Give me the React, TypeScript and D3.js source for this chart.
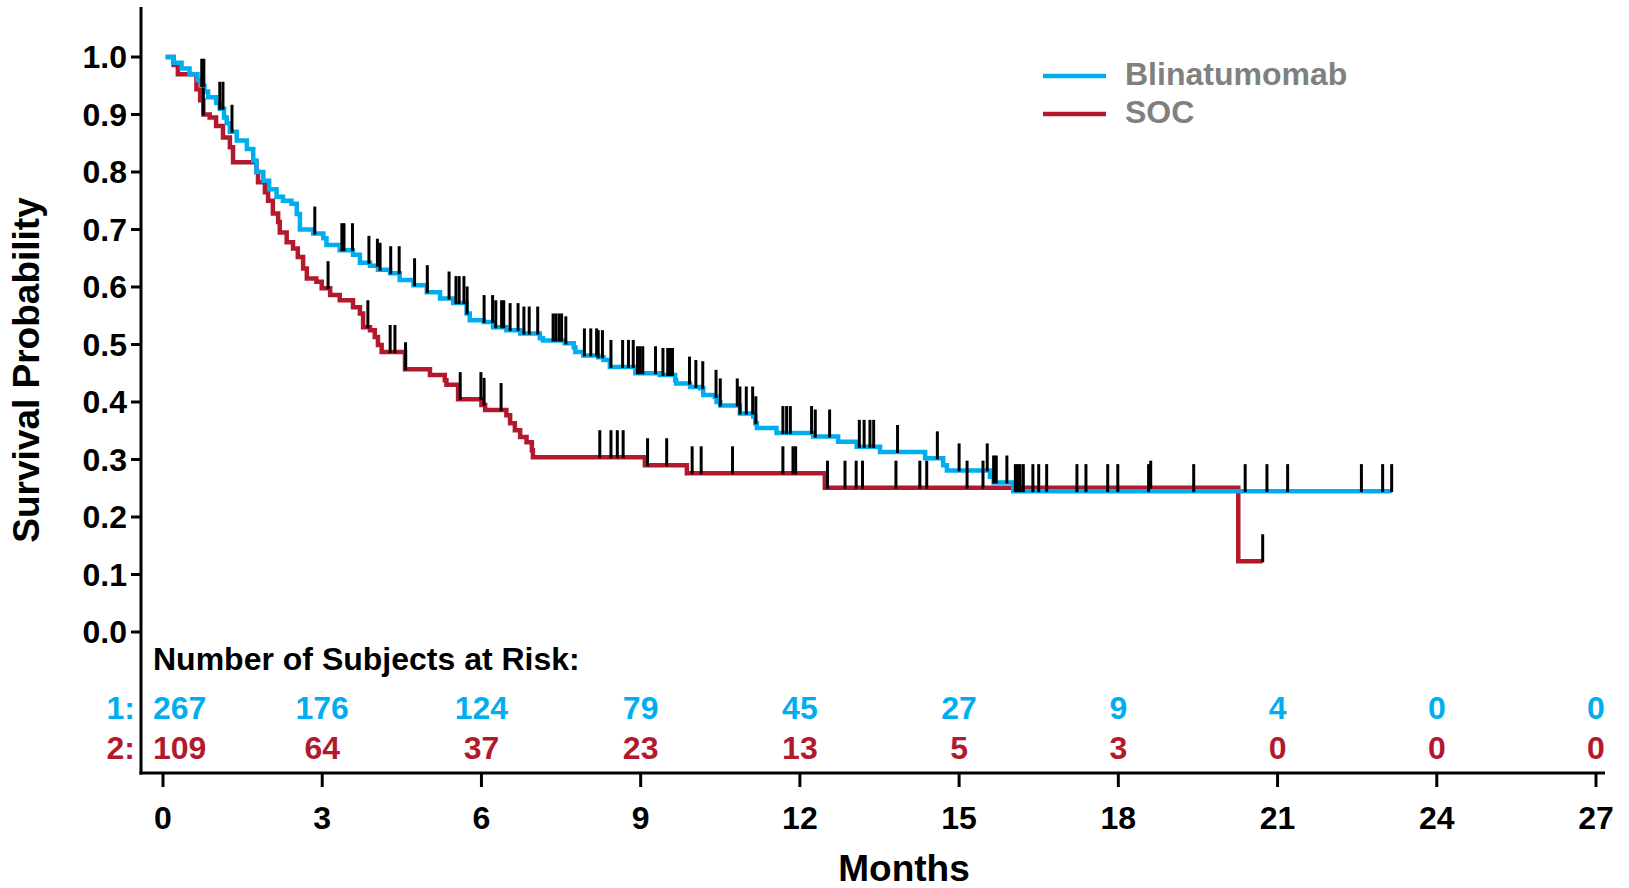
import React from "react";
import * as d3 from "d3";

// Kaplan-Meier steps: time (months) where survival drops, and survival after the drop
const blinaTimes = [0.2, 0.35, 0.5, 0.65, 0.72, 0.78, 0.85, 1.0, 1.07, 1.15, 1.2, 1.26, 1.39, 1.58, 1.7, 1.76, 1.89, 2.0, 2.14, 2.26, 2.42, 2.52, 2.58, 2.83, 3.02, 3.08, 3.33, 3.58, 3.71, 3.9, 4.05, 4.28, 4.46, 4.72, 4.97, 5.22, 5.47, 5.72, 5.78, 6.04, 6.22, 6.47, 6.73, 7.1, 7.16, 7.57, 7.74, 7.77, 7.92, 8.2, 8.3, 8.42, 8.9, 9.36, 9.65, 9.67, 9.93, 10.12, 10.18, 10.4, 10.43, 10.5, 10.87, 11.12, 11.16, 11.19, 11.56, 12.25, 12.72, 13.07, 13.51, 14.36, 14.7, 14.77, 15.58, 15.65, 16.02];
const blinaSurv = [0.99, 0.98, 0.97, 0.96, 0.95, 0.94, 0.93, 0.92, 0.91, 0.895, 0.885, 0.87, 0.855, 0.84, 0.82, 0.8, 0.785, 0.77, 0.757, 0.75, 0.745, 0.727, 0.7, 0.693, 0.685, 0.673, 0.664, 0.656, 0.642, 0.637, 0.63, 0.624, 0.612, 0.603, 0.591, 0.58, 0.572, 0.554, 0.542, 0.539, 0.53, 0.525, 0.519, 0.511, 0.507, 0.502, 0.495, 0.487, 0.481, 0.478, 0.473, 0.461, 0.45, 0.447, 0.438, 0.432, 0.426, 0.424, 0.412, 0.409, 0.4, 0.394, 0.38, 0.375, 0.363, 0.355, 0.346, 0.34, 0.331, 0.322, 0.313, 0.302, 0.29, 0.281, 0.27, 0.26, 0.245];
const blinaEnd = 23.15;
const blinaCensor = [0.73, 0.77, 1.07, 1.13, 1.3, 2.86, 3.37, 3.41, 3.57, 3.88, 4.04, 4.09, 4.29, 4.45, 4.74, 4.98, 5.39, 5.52, 5.58, 5.67, 5.73, 6.05, 6.21, 6.27, 6.38, 6.42, 6.54, 6.69, 6.8, 6.9, 7.06, 7.35, 7.4, 7.46, 7.51, 7.59, 7.94, 8.06, 8.17, 8.2, 8.28, 8.44, 8.66, 8.77, 8.86, 8.94, 8.99, 9.04, 9.28, 9.42, 9.51, 9.55, 9.6, 9.92, 10.04, 10.17, 10.42, 10.5, 10.82, 10.87, 10.99, 11.11, 11.17, 11.68, 11.75, 11.82, 12.22, 12.29, 12.56, 13.12, 13.21, 13.32, 13.39, 13.84, 14.59, 15.0, 15.53, 15.65, 15.7, 15.9, 16.06, 16.1, 16.15, 16.21, 16.39, 16.5, 16.65, 17.22, 17.39, 17.8, 17.99, 18.57, 19.42, 20.39, 20.8, 21.19, 22.58, 22.98, 23.15];

const socTimes = [0.2, 0.28, 0.63, 0.7, 0.76, 0.88, 1.0, 1.13, 1.26, 1.32, 1.76, 1.79, 1.92, 1.98, 2.07, 2.17, 2.2, 2.33, 2.45, 2.54, 2.64, 2.71, 2.89, 2.99, 3.15, 3.33, 3.58, 3.71, 3.77, 3.9, 3.99, 4.05, 4.12, 4.56, 5.03, 5.31, 5.34, 5.56, 6.0, 6.07, 6.47, 6.54, 6.63, 6.73, 6.85, 6.95, 6.97, 9.08, 9.87, 12.47, 20.26];
const socSurv = [0.986, 0.97, 0.944, 0.925, 0.9, 0.895, 0.88, 0.86, 0.843, 0.817, 0.8, 0.782, 0.765, 0.75, 0.728, 0.713, 0.695, 0.678, 0.667, 0.652, 0.632, 0.615, 0.609, 0.598, 0.586, 0.577, 0.565, 0.554, 0.53, 0.525, 0.513, 0.499, 0.487, 0.457, 0.447, 0.438, 0.43, 0.405, 0.395, 0.386, 0.377, 0.363, 0.351, 0.339, 0.33, 0.316, 0.304, 0.29, 0.276, 0.251, 0.123];
const socEnd = 20.72;
const socCensor = [0.76, 3.11, 3.86, 4.28, 4.37, 4.57, 5.6, 5.99, 6.05, 6.37, 8.23, 8.44, 8.56, 8.67, 9.13, 9.49, 9.97, 10.14, 10.73, 11.68, 11.87, 11.92, 12.52, 12.85, 13.06, 13.18, 13.81, 14.26, 14.39, 15.15, 15.45, 18.61, 20.72];

const xTickValues = [0, 3, 6, 9, 12, 15, 18, 21, 24, 27];
const yTickValues = [0, 0.1, 0.2, 0.3, 0.4, 0.5, 0.6, 0.7, 0.8, 0.9, 1.0];
const blinaRisk = [267, 176, 124, 79, 45, 27, 9, 4, 0, 0];
const socRisk = [109, 64, 37, 23, 13, 5, 3, 0, 0, 0];

const BLUE = "#00aeef";
const RED = "#b3192c";
const FONT = "'Liberation Sans', Arial, sans-serif";

function buildCurve(times: number[], surv: number[], end: number) {
  const pts: [number, number][] = [[0.05, 1]];
  times.forEach((t, i) => pts.push([t, surv[i]]));
  pts.push([end, surv[surv.length - 1]]);
  return pts;
}

function survAt(times: number[], surv: number[], t: number) {
  const i = d3.bisectRight(times, t);
  return i === 0 ? 1 : surv[i - 1];
}

export default function App() {
  const width = 1629;
  const height = 888;
  const axisX = 141;
  const axisY = 773;

  const x = d3.scaleLinear().domain([0, 27]).range([163, 1596]);
  const y = d3.scaleLinear().domain([0, 1]).range([632, 57]);

  const line = d3
    .line<[number, number]>()
    .x((d) => x(d[0]))
    .y((d) => y(d[1]))
    .curve(d3.curveStepAfter);

  const blinaPath = line(buildCurve(blinaTimes, blinaSurv, blinaEnd)) || "";
  const socPath = line(buildCurve(socTimes, socSurv, socEnd)) || "";

  const censorMarks = (times: number[], surv: number[], censor: number[], key: string) =>
    censor.map((t, i) => {
      const yy = y(survAt(times, surv, t));
      return (
        <line key={key + i} x1={x(t)} x2={x(t)} y1={yy + 1} y2={yy - 27} stroke="#000" strokeWidth={3} />
      );
    });

  return (
    <svg
      width={width}
      height={height}
      style={{ position: "absolute", left: 0, top: 0, background: "#fff" }}
      fontFamily={FONT}
      fontWeight="bold"
    >
      {/* axes */}
      <line x1={axisX} x2={axisX} y1={7} y2={axisY + 1.5} stroke="#000" strokeWidth={3} />
      <line x1={axisX - 1.5} x2={1605} y1={axisY} y2={axisY} stroke="#000" strokeWidth={3} />

      {yTickValues.map((v) => (
        <g key={"y" + v}>
          <line x1={axisX - 10} x2={axisX} y1={y(v)} y2={y(v)} stroke="#000" strokeWidth={3} />
          <text x={127} y={y(v) + 11} textAnchor="end" fontSize={32} fill="#000">
            {v.toFixed(1)}
          </text>
        </g>
      ))}

      {xTickValues.map((v) => (
        <g key={"x" + v}>
          <line x1={x(v)} x2={x(v)} y1={axisY} y2={axisY + 14} stroke="#000" strokeWidth={3} />
          <text x={x(v)} y={829} textAnchor="middle" fontSize={32} fill="#000">
            {v}
          </text>
        </g>
      ))}

      <text
        transform={`translate(39,370) rotate(-90)`}
        textAnchor="middle"
        fontSize={37}
        fill="#000"
      >
        Survival Probability
      </text>
      <text x={904} y={881} textAnchor="middle" fontSize={37} fill="#000">
        Months
      </text>

      {/* curves */}
      <path d={socPath} fill="none" stroke={RED} strokeWidth={4.5} />
      <path d={blinaPath} fill="none" stroke={BLUE} strokeWidth={4.5} />
      {censorMarks(socTimes, socSurv, socCensor, "s")}
      {censorMarks(blinaTimes, blinaSurv, blinaCensor, "b")}

      {/* legend */}
      <line x1={1043} x2={1106} y1={76} y2={76} stroke={BLUE} strokeWidth={4.5} />
      <line x1={1043} x2={1106} y1={114} y2={114} stroke={RED} strokeWidth={4.5} />
      <text x={1125} y={85} fontSize={32} fill="#808080">Blinatumomab</text>
      <text x={1125} y={123} fontSize={32} fill="#808080">SOC</text>

      {/* risk table */}
      <text x={153} y={670} fontSize={32} fill="#000">Number of Subjects at Risk:</text>
      <text x={135} y={719} textAnchor="end" fontSize={32} fill={BLUE}>1:</text>
      <text x={135} y={759} textAnchor="end" fontSize={32} fill={RED}>2:</text>
      {xTickValues.map((v, i) => (
        <g key={"r" + v}>
          <text
            x={i === 0 ? 153 : x(v)}
            y={719}
            textAnchor={i === 0 ? "start" : "middle"}
            fontSize={32}
            fill={BLUE}
          >
            {blinaRisk[i]}
          </text>
          <text
            x={i === 0 ? 153 : x(v)}
            y={759}
            textAnchor={i === 0 ? "start" : "middle"}
            fontSize={32}
            fill={RED}
          >
            {socRisk[i]}
          </text>
        </g>
      ))}
    </svg>
  );
}
